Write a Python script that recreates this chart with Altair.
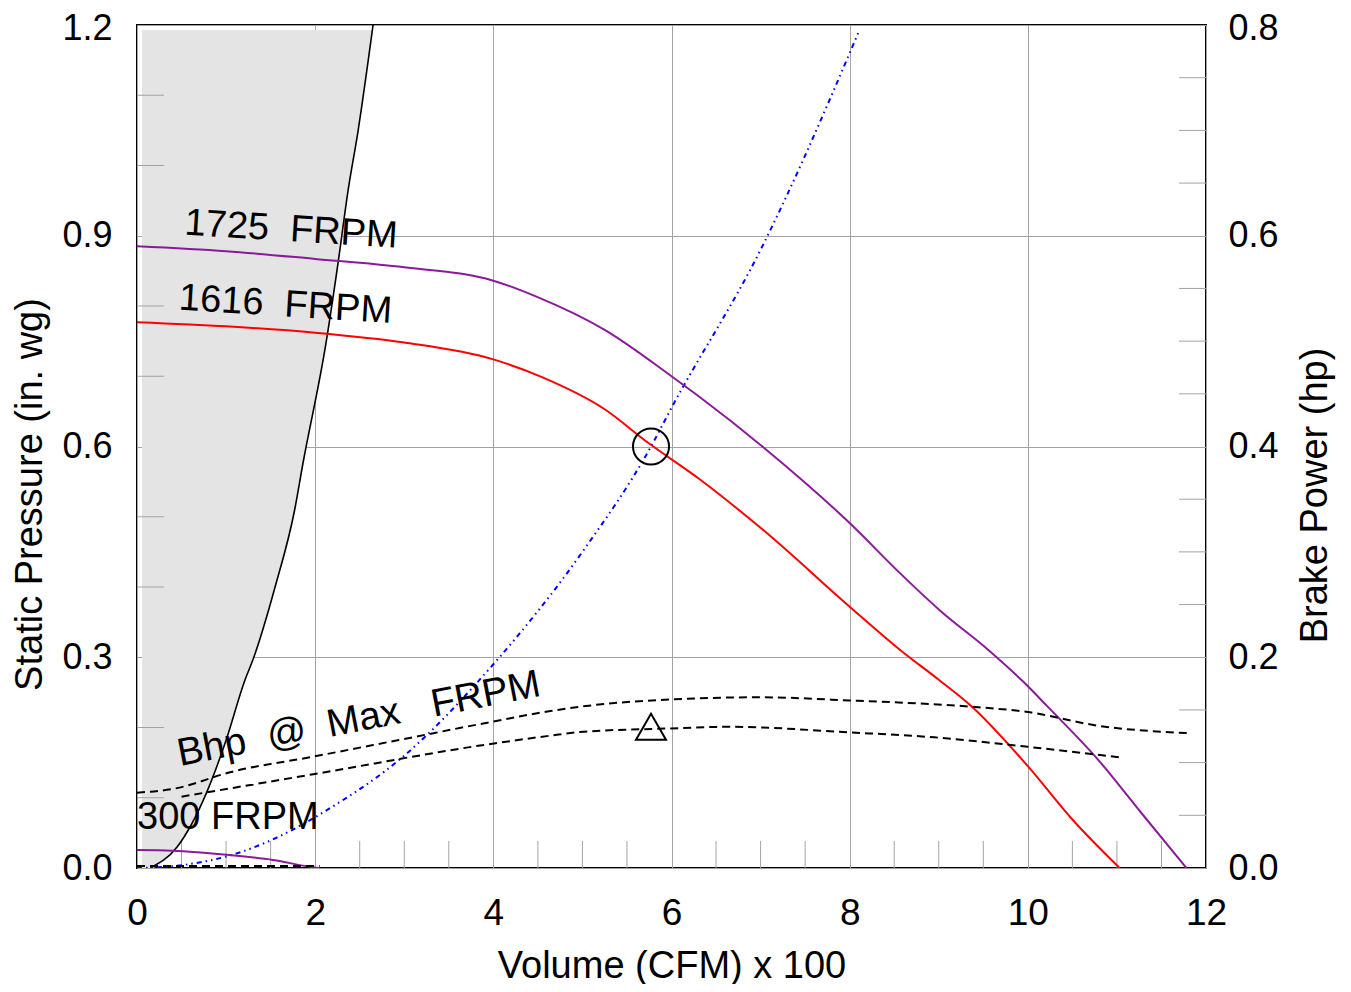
import altair as alt
import pandas as pd

# ---------------- data ----------------
# 1725 FRPM fan curve (purple): volume (CFM x100) vs static pressure (in. wg)
q1725 = [0.0, 1.0, 2.0, 3.0, 4.0, 4.49, 5.25, 6.0, 6.32, 7.03, 8.0, 8.57, 9.01, 9.56, 9.95, 10.22, 10.79, 11.27, 11.78]
p1725 = [0.885, 0.878, 0.867, 0.855, 0.836, 0.813, 0.766, 0.700, 0.670, 0.599, 0.491, 0.419, 0.367, 0.31, 0.265, 0.23, 0.154, 0.079, 0.0]

# 1616 FRPM fan curve (red)
q1616 = [0.0, 1.0, 2.0, 3.0, 4.0, 4.56, 5.25, 5.73, 6.32, 7.03, 8.0, 8.57, 9.0, 9.37, 10.0, 10.5, 11.03]
p1616 = [0.777, 0.771, 0.762, 0.748, 0.724, 0.698, 0.653, 0.606, 0.553, 0.481, 0.372, 0.31, 0.268, 0.23, 0.145, 0.069, 0.0]

# 300 FRPM fan curve (purple, bottom left)
q300 = [0.0, 0.4, 1.04, 1.53, 1.98, 2.05]
p300 = [0.0256, 0.0247, 0.0185, 0.0114, 0.001, 0.0]

# System curve (blue dash-dot)
qsys = [0.0, 0.5, 1.1, 1.8, 2.1, 3.0, 4.0, 5.0, 5.77, 6.0, 7.0, 8.0, 8.1]
psys = [0.0, 0.004, 0.02, 0.058, 0.08, 0.16, 0.29, 0.45, 0.6, 0.655, 0.88, 1.16, 1.19]

# Stall boundary (black) and hatched region above/left of it
qstall = [0.15, 0.45, 0.78, 1.0, 1.21, 1.3, 1.55, 1.77, 1.86, 2.12, 2.26, 2.37, 2.48, 2.65]
pstall = [0.0, 0.03, 0.107, 0.182, 0.267, 0.296, 0.4, 0.51, 0.574, 0.746, 0.864, 0.965, 1.048, 1.2]
qhatch = [0.056, 0.15, 0.45, 0.78, 1.0, 1.21, 1.3, 1.55, 1.77, 1.86, 2.12, 2.26, 2.37, 2.48, 2.64]
phatch = [0.0, 0.0, 0.03, 0.107, 0.182, 0.267, 0.296, 0.4, 0.51, 0.574, 0.746, 0.864, 0.965, 1.048, 1.193]
phatch_top = 1.193

# Brake power curves (black dashed, right axis)
qbhp1 = [0.0, 0.4, 1.07, 1.98, 2.94, 4.0, 4.64, 4.97, 6.0, 7.0, 8.0, 9.37, 10.0, 10.79, 11.8]
bhp1 = [0.0715, 0.075, 0.0914, 0.1057, 0.1215, 0.139, 0.149, 0.153, 0.160, 0.162, 0.159, 0.153, 0.148, 0.135, 0.128]
qbhp2 = [0.5, 1.98, 3.99, 4.64, 4.97, 6.0, 6.66, 8.0, 8.95, 10.0, 11.04]
bhp2 = [0.0677, 0.089, 0.118, 0.1256, 0.129, 0.1325, 0.134, 0.1287, 0.124, 0.115, 0.105]
qbhp3 = [0.0, 2.05]
bhp3 = [0.002, 0.002]

# Operating point
op_q = [5.77]
op_p = [0.6]
op_bhp = [0.134]

# Axis ticks
x_major = [0, 2, 4, 6, 8, 10, 12]
x_minor = [0.5, 1, 1.5, 2.5, 3, 3.5, 4.5, 5, 5.5, 6.5, 7, 7.5, 8.5, 9, 9.5, 10.5, 11, 11.5]
p_major = [0.0, 0.3, 0.6, 0.9, 1.2]
p_minor = [0.1, 0.2, 0.4, 0.5, 0.7, 0.8, 1.0, 1.1]
h_major = [0.0, 0.2, 0.4, 0.6, 0.8]
h_minor = [0.05, 0.1, 0.15, 0.25, 0.3, 0.35, 0.45, 0.5, 0.55, 0.65, 0.7, 0.75]

# Annotations
NB = "\u00a0"
lbl_text = ["1725" + NB * 2 + "FRPM", "1616" + NB * 2 + "FRPM",
            "Bhp" + NB * 2 + "@" + NB * 2 + "Max" + NB * 3 + "FRPM", "300 FRPM"]
lbl_q = [1.73, 1.667, 2.49, 1.02]
lbl_p = [0.908, 0.801, 0.212, 0.071]
lbl_size = [38, 38, 39, 38]
lbl_angle = [3.5, 3.6, 349, 0]

# ---------------- chart ----------------
W, H = 1069, 843
FONT = "Liberation Sans"
GRID = "#a3a3a3"
PURPLE = "#8b1a9b"

xscale = alt.Scale(domain=[0, 12], nice=False, zero=False)
pscale = alt.Scale(domain=[0, 1.2], nice=False, zero=False)
hscale = alt.Scale(domain=[0, 0.8], nice=False, zero=False)

xaxis = alt.Axis(values=x_major, grid=True, gridColor=GRID, gridWidth=1, ticks=False,
                 domain=False, labelFontSize=37, labelPadding=27, labelFont=FONT,
                 labelColor="black", title="Volume (CFM) x 100", titleFont=FONT,
                 titleFontSize=38, titleFontWeight="normal", titleColor="black",
                 titlePadding=16, labelFlush=False)
paxis = alt.Axis(values=p_major, format=".1f", grid=True, gridColor=GRID, gridWidth=1,
                 ticks=False, domain=False, labelFontSize=36, labelPadding=25,
                 labelFont=FONT, labelColor="black", labelFlush=False,
                 labelOffset={"condition": {"test": "datum.value >= 1.19", "value": 3}, "value": 0},
                 title="Static Pressure (in. wg)", titleFont=FONT, titleFontSize=38,
                 titleFontWeight="normal", titleColor="black", titlePadding=12,
                 titleY=469)
haxis = alt.Axis(values=h_major, format=".1f", grid=False, orient="right",
                 ticks=False, domain=False, labelFontSize=36, labelPadding=22,
                 labelFont=FONT, labelColor="black", labelFlush=False,
                 labelOffset={"condition": {"test": "datum.value >= 0.79", "value": 3}, "value": 0},
                 title="Brake Power (hp)", titleFont=FONT, titleFontSize=38,
                 titleFontWeight="normal", titleColor="black", titlePadding=56,
                 titleAngle=270, titleY=470)


def X(f="q"):
    return alt.X(f + ":Q", scale=xscale, axis=xaxis)


def YP(f="v"):
    return alt.Y(f + ":Q", scale=pscale, axis=paxis)


def YH(f="v"):
    return alt.Y(f + ":Q", scale=hscale, axis=haxis)


def df(q, v):
    return pd.DataFrame({"q": q, "v": v})


def pline(q, v, **kw):
    return alt.Chart(df(q, v)).mark_line(clip=True, **kw).encode(
        x=X(), y=YP(), order="q:Q")


def hline(q, v, **kw):
    return alt.Chart(df(q, v)).mark_line(clip=True, **kw).encode(
        x=X(), y=YH(), order="q:Q")


# hatched region (stall zone): between stall curve and the top of the hatch
hdf = df(qhatch, phatch)
hdf["top"] = phatch_top
hatch = alt.Chart(hdf).mark_area(color="#e4e4e4", clip=True, interpolate="monotone").encode(
    x=X(),
    y=alt.Y("v:Q", scale=pscale, axis=paxis, stack=None),
    y2="top:Q")

# minor ticks
p_ticks = alt.Chart(pd.DataFrame({"v": p_minor})).mark_rule(color=GRID, strokeWidth=1).encode(
    y=YP(), x=alt.value(0), x2=alt.value(27))
x_ticks = alt.Chart(pd.DataFrame({"q": x_minor})).mark_rule(color=GRID, strokeWidth=1).encode(
    x=X(), y=alt.value(H - 27), y2=alt.value(H))
h_ticks = alt.Chart(pd.DataFrame({"v": h_minor})).mark_rule(color=GRID, strokeWidth=1).encode(
    y=YH(), x=alt.value(W - 27), x2=alt.value(W))

stall = alt.Chart(df(qstall, pstall)).mark_line(clip=True, color="black", strokeWidth=1.6,
                                                interpolate="monotone").encode(
    x=X(), y=YP(), order="v:Q")

sysc = pline(qsys, psys, color="#0000ff", strokeWidth=2, strokeDash=[5, 4, 1.5, 4, 1.5, 4],
             interpolate="monotone")
c1725 = pline(q1725, p1725, color=PURPLE, strokeWidth=2, interpolate="monotone")
c1616 = pline(q1616, p1616, color="#ff0000", strokeWidth=2, interpolate="monotone")
c300 = pline(q300, p300, color=PURPLE, strokeWidth=2, interpolate="monotone")

op_circle = alt.Chart(df(op_q, op_p)).mark_point(shape="circle", size=1300, filled=False,
                                                 color="black", strokeWidth=2, opacity=1).encode(
    x=X(), y=YP())

labels = []
for t, q, p, a, s in zip(lbl_text, lbl_q, lbl_p, lbl_angle, lbl_size):
    labels.append(alt.Chart(pd.DataFrame({"q": [q], "v": [p], "t": [t]})).mark_text(
        font=FONT, fontSize=s, color="black", angle=a, align="center",
        baseline="middle").encode(x=X(), y=YP(), text="t:N"))

# right-axis (hp) group
bhp_a = hline(qbhp1, bhp1, color="black", strokeWidth=2, strokeDash=[8, 5], interpolate="monotone")
bhp_b = hline(qbhp2, bhp2, color="black", strokeWidth=2, strokeDash=[8, 5], interpolate="monotone")
bhp_c = hline(qbhp3, bhp3, color="black", strokeWidth=2, strokeDash=[8, 5])
op_tri = alt.Chart(df(op_q, op_bhp)).mark_point(shape="triangle-up", size=900, filled=False,
                                                color="black", strokeWidth=2, opacity=1).encode(
    x=X(), y=YH())

left = alt.layer(hatch, p_ticks, x_ticks, stall, sysc, c300, c1616, c1725, op_circle, *labels)
right = alt.layer(bhp_a, h_ticks, bhp_b, bhp_c, op_tri)

chart = alt.layer(left, right).resolve_scale(y="independent").properties(
    width=W, height=H,
    background="white",
    autosize=alt.AutoSizeParams(type="none"),
    padding={"left": 129, "top": 17, "right": 137, "bottom": 116},
).configure_view(stroke="black", strokeWidth=2)

chart.save("out.html", embed_options={"renderer": "svg", "actions": False})
